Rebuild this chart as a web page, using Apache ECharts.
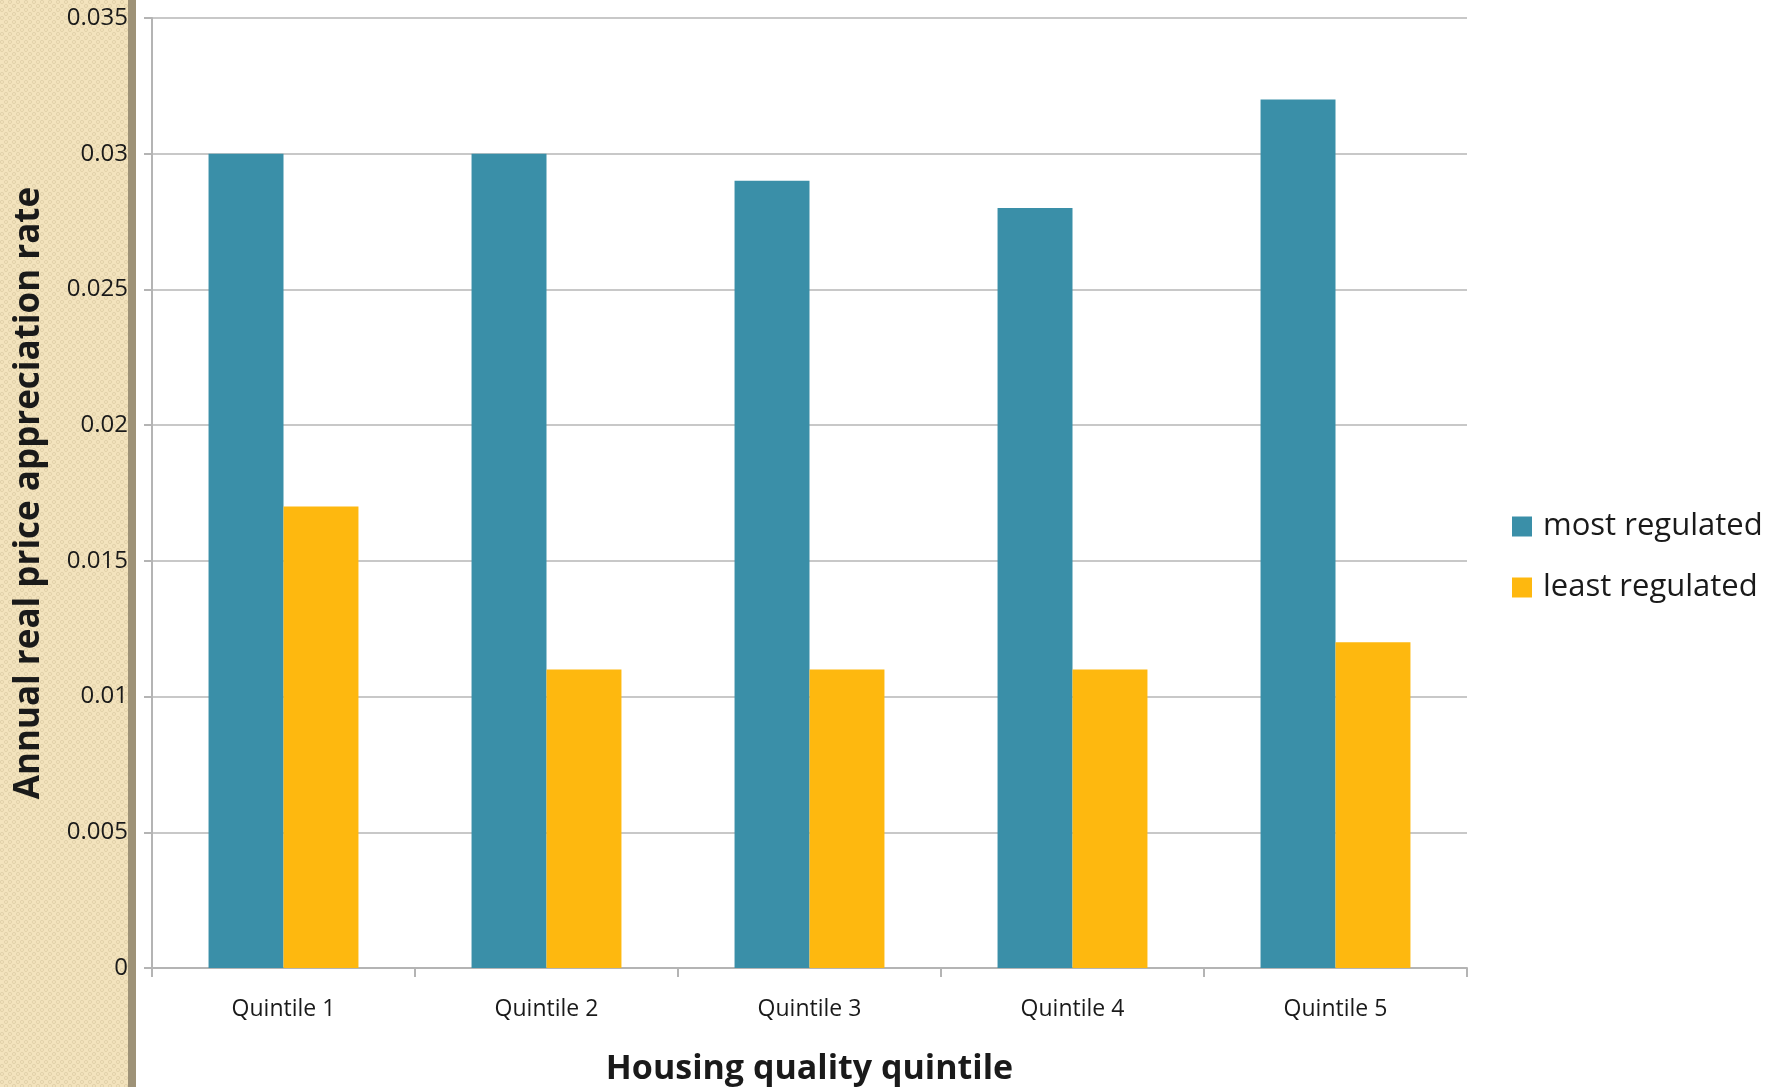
<!DOCTYPE html>
<html>
<head>
<meta charset="utf-8">
<script src="https://cdn.jsdelivr.net/npm/echarts@6/dist/echarts.min.js"></script>
<style>
  html, body { margin: 0; padding: 0; background: #ffffff; }
  #chart { width: 1785px; height: 1087px; }
</style>
</head>
<body>
<div id="chart"></div>
<script>
// Housing quality quintiles and annual real price appreciation by regulation level
const categories = ['Quintile 1', 'Quintile 2', 'Quintile 3', 'Quintile 4', 'Quintile 5'];
const mostRegulated = [0.030, 0.030, 0.029, 0.028, 0.032];
const leastRegulated = [0.017, 0.011, 0.011, 0.011, 0.012];
const yTicks = [0, 0.005, 0.01, 0.015, 0.02, 0.025, 0.03, 0.035];

const FONT = '"Open Sans", Lato, sans-serif';

// Small dotted tile for the beige side panel
function makeTile() {
  const c = document.createElement('canvas');
  c.width = 8; c.height = 8;
  const g = c.getContext('2d');
  g.fillStyle = '#f3e3bd';
  g.fillRect(0, 0, 8, 8);
  g.strokeStyle = 'rgba(200,180,140,0.45)';
  g.lineWidth = 0.8;
  g.beginPath(); g.arc(2, 2, 1.6, 0, Math.PI * 2); g.stroke();
  g.beginPath(); g.arc(6, 6, 1.6, 0, Math.PI * 2); g.stroke();
  return c;
}

const chart = echarts.init(document.getElementById('chart'), null, { renderer: 'canvas' });

chart.setOption({
  backgroundColor: '#ffffff',
  animation: false,
  textStyle: { fontFamily: FONT },
  graphic: [
    {
      type: 'rect', left: 0, top: 0, z: -10,
      shape: { width: 128, height: 1087 },
      style: { fill: { image: makeTile(), repeat: 'repeat' } },
      silent: true
    },
    {
      type: 'rect', left: 128, top: 0, z: -10,
      shape: { width: 8, height: 1087 },
      style: { fill: '#9e9277' },
      silent: true
    }
  ],
  grid: { left: 152, right: 318, top: 18, bottom: 119, containLabel: false, outerBoundsMode: 'none' },
  legend: {
    orient: 'vertical',
    left: 1512,
    top: 511,
    padding: 0,
    itemWidth: 20,
    itemHeight: 20,
    itemGap: 30,
    icon: 'rect',
    textStyle: { fontFamily: FONT, fontSize: 31, color: '#1a1a1a', lineHeight: 28, padding: [0, 0, 0, 6] },
    data: ['most regulated', 'least regulated']
  },
  xAxis: {
    type: 'category',
    data: categories,
    name: 'Housing quality quintile',
    nameLocation: 'middle',
    nameGap: 84,
    nameTextStyle: { fontFamily: FONT, fontSize: 34, fontWeight: 'bold', color: '#1a1a1a' },
    axisLine: { show: true, lineStyle: { color: '#b4b4b4', width: 2 } },
    axisTick: { show: true, alignWithLabel: false, length: 9, lineStyle: { color: '#b4b4b4', width: 2 } },
    axisLabel: { fontFamily: FONT, fontSize: 23, color: '#1a1a1a', margin: 30 },
    splitLine: { show: false }
  },
  yAxis: {
    type: 'value',
    min: 0,
    max: yTicks[yTicks.length - 1],
    interval: yTicks[1] - yTicks[0],
    name: 'Annual real price appreciation rate',
    nameLocation: 'middle',
    nameGap: 105,
    nameRotate: 90,
    nameTextStyle: { fontFamily: FONT, fontSize: 35, fontWeight: 'bold', color: '#1a1a1a' },
    axisLine: { show: true, lineStyle: { color: '#b4b4b4', width: 2 } },
    axisTick: { show: true, length: 8, lineStyle: { color: '#b4b4b4', width: 2 } },
    axisLabel: {
      fontFamily: FONT, fontSize: 24, color: '#1a1a1a', margin: 24,
      formatter: v => String(parseFloat(v.toFixed(3)))
    },
    splitLine: { show: true, lineStyle: { color: '#c8c8c8', width: 2 } }
  },
  series: [
    {
      name: 'most regulated',
      type: 'bar',
      data: mostRegulated,
      barGap: '0%',
      barCategoryGap: '43%',
      itemStyle: { color: '#3a8fa8' }
    },
    {
      name: 'least regulated',
      type: 'bar',
      data: leastRegulated,
      barGap: '0%',
      barCategoryGap: '43%',
      itemStyle: { color: '#feb80f' }
    }
  ]
});
</script>
</body>
</html>
